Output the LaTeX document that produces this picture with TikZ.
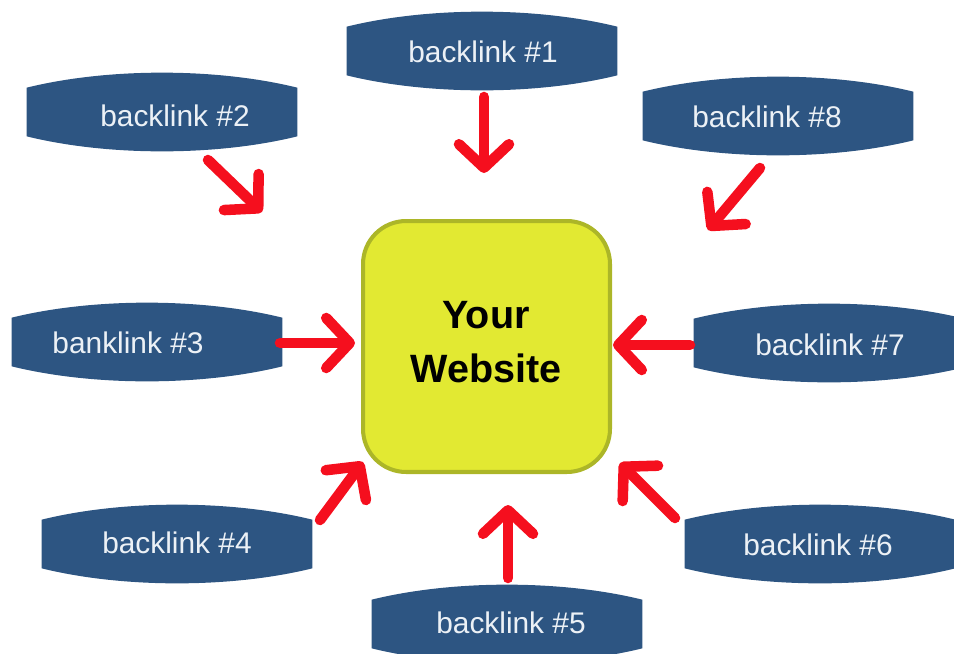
\documentclass[tikz,border=0pt]{standalone}
\usepackage{fontspec}
\setmainfont{Liberation Sans}
\definecolor{BannerBlue}{RGB}{45,85,130}
\definecolor{BannerText}{RGB}{236,241,246}
\definecolor{ArrowRed}{RGB}{245,15,30}
\definecolor{SiteFill}{RGB}{226,233,50}
\definecolor{SiteBorder}{RGB}{172,182,40}
\usetikzlibrary{calc, arrows.meta}
\tikzset{
    banner/.style={minimum width=5.4cm, minimum height=0.96cm, inner sep=0pt},
    linktext/.style={text=BannerText, font=\fontsize{17}{20}\selectfont, inner sep=0pt},
    site/.style={draw=SiteBorder, fill=SiteFill, line width=2.3pt, rounded corners=0.86cm,
        minimum width=4.94cm, minimum height=5.02cm},
    sitetext/.style={align=center, inner sep=0pt, font=\fontsize{22.5}{31}\selectfont\bfseries},
    link/.style={draw=ArrowRed, line width=6pt, line cap=round,
        -{Straight Barb[round, length=0.47cm, width=1.0cm]}}
}

\begin{document}
\begin{tikzpicture}[x=0.02cm, y=-0.02cm]

\useasboundingbox (0,0) rectangle (954,653);

\node[banner] (b1) at (482,51) {};
\node[banner] (b2) at (162,112) {};
\node[banner] (b3) at (147,342) {};
\node[banner] (b4) at (177,544) {};
\node[banner] (b5) at (507,624) {};
\node[banner] (b6) at (820,544) {};
\node[banner] (b7) at (829,343) {};
\node[banner] (b8) at (778,116) {};

% Colorear las cintas
\foreach \n in {1,...,8}
    \fill[BannerBlue] (b\n.north west)
        .. controls ($(b\n.north west)!0.3!(b\n.north east)+(0,-20)$) and ($(b\n.north west)!0.7!(b\n.north east)+(0,-20)$) .. (b\n.north east)
        -- (b\n.south east)
        .. controls ($(b\n.south east)!0.3!(b\n.south west)+(0,20)$) and ($(b\n.south east)!0.7!(b\n.south west)+(0,20)$) .. (b\n.south west)
        -- cycle;

\node[linktext] (t1) at (483,52) {backlink \#1};
\node[linktext] (t2) at (175,116) {backlink \#2};
\node[linktext] (t3) at (128,343) {banklink \#3};
\node[linktext] (t4) at (177,543) {backlink \#4};
\node[linktext] (t5) at (511,623) {backlink \#5};
\node[linktext] (t6) at (818,545) {backlink \#6};
\node[linktext] (t7) at (830,345) {backlink \#7};
\node[linktext] (t8) at (767,117) {backlink \#8};

\node[site] (web) at (486.5,346.5) {};
\node[sitetext] (webtext) at (486,342) {Your\\Website};

% Extremos de las flechas
\coordinate (s1) at (484,97);  \coordinate (e1) at (484,173);
\coordinate (s2) at (208,160); \coordinate (e2) at (262,212);
\coordinate (s3) at (280,343); \coordinate (e3) at (355,343);
\coordinate (s4) at (320,520); \coordinate (e4) at (363,462);
\coordinate (s5) at (508,578); \coordinate (e5) at (508,505);
\coordinate (s6) at (675,518); \coordinate (e6) at (620,463);
\coordinate (s7) at (690,345); \coordinate (e7) at (613,345);
\coordinate (s8) at (760,168); \coordinate (e8) at (708,230);

\foreach \n in {1,...,8}
    \draw[link] (s\n) -- (e\n);

\end{tikzpicture}
\end{document}
